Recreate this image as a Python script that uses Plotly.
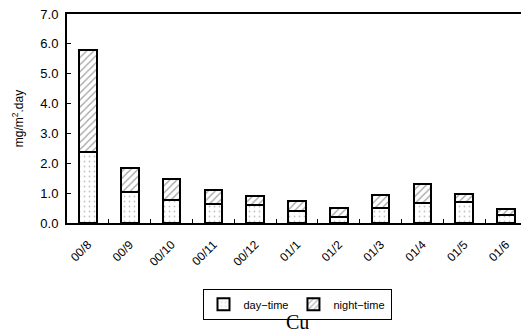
import plotly.graph_objects as go

months = ["00/8", "00/9", "00/10", "00/11", "00/12", "01/1", "01/2", "01/3", "01/4", "01/5", "01/6"]
day_time = [2.37, 1.05, 0.77, 0.62, 0.6, 0.4, 0.2, 0.51, 0.67, 0.7, 0.28]
total = [5.78, 1.84, 1.47, 1.1, 0.9, 0.74, 0.5, 0.94, 1.31, 0.97, 0.47]
night_time = [round(t - d, 2) for t, d in zip(total, day_time)]
y_ticks = [0, 1, 2, 3, 4, 5, 6, 7]

fig = go.Figure()
fig.add_trace(go.Bar(
    x=months, y=day_time, name="day\u2212time", width=0.42,
    marker=dict(color="white", line=dict(color="black", width=2),
                pattern=dict(shape=".", fgcolor="#888", bgcolor="white", size=5, solidity=0.1)),
))
fig.add_trace(go.Bar(
    x=months, y=night_time, name="night\u2212time", width=0.42,
    marker=dict(color="white", line=dict(color="black", width=2),
                pattern=dict(shape="/", fgcolor="#444", bgcolor="white", size=5, solidity=0.25)),
))

# page body has an 8px margin, so the figure is sized/offset to compensate
fig.update_layout(
    barmode="stack",
    width=521, height=328,
    margin=dict(l=59, r=2, t=6, b=113, autoexpand=False),
    paper_bgcolor="white", plot_bgcolor="white",
    font=dict(family="Liberation Sans, Arial", color="black", size=12),
    showlegend=True,
    legend=dict(orientation="h", traceorder="normal", x=0.5, xanchor="center",
                y=-0.315, yanchor="top",
                bordercolor="black", borderwidth=1, font=dict(size=11),
                itemwidth=30, tracegroupgap=0),
    annotations=[dict(text="Cu", x=0.5, y=-0.475, xref="paper", yref="paper",
                      xanchor="center", yanchor="middle", showarrow=False,
                      font=dict(family="Liberation Serif, Times New Roman", size=20))],
)
fig.update_xaxes(
    tickangle=-45, showline=True, linecolor="black", linewidth=2, mirror=True,
    ticks="inside", tickson="boundaries", ticklen=4, tickcolor="black",
    tickfont=dict(size=12), ticklabelstandoff=8, automargin=False, showgrid=False,
)
fig.update_yaxes(
    range=[0, 7], tickvals=y_ticks, ticktext=[f"{v:.1f}" for v in y_ticks],
    showline=True, linecolor="black", linewidth=2, mirror=True,
    ticks="inside", ticklen=4, tickcolor="black", showgrid=False,
    title=dict(text="mg/m<sup>2</sup>.day", font=dict(size=12), standoff=14),
    tickfont=dict(size=13), zeroline=False, automargin=False, ticklabelstandoff=4,
    ticklabeloverflow="allow",
)

fig.write_html("out.html")
